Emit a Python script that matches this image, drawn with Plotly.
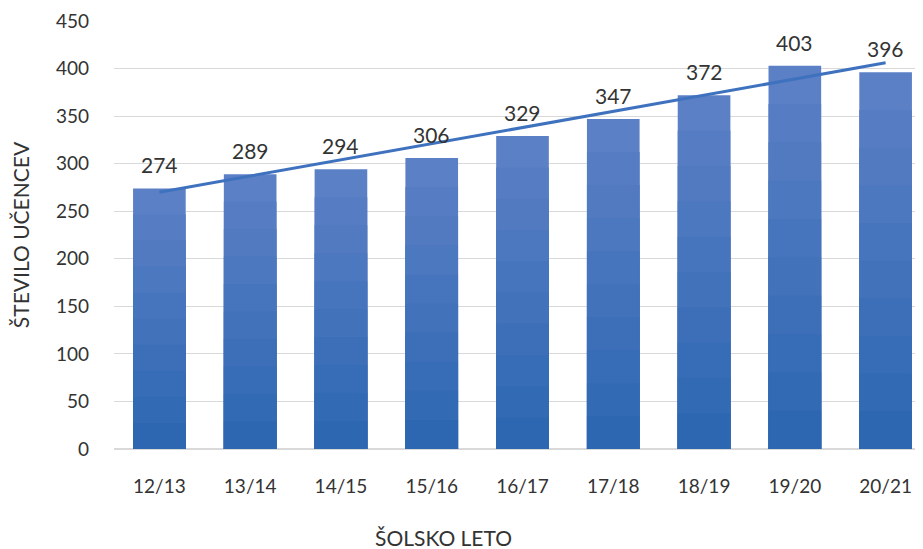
import plotly.graph_objects as go

# data
years = ["12/13", "13/14", "14/15", "15/16", "16/17", "17/18", "18/19", "19/20", "20/21"]
students = [274, 289, 294, 306, 329, 347, 372, 403, 396]
trend_x = [years[0], years[-1]]
trend_y = [270, 406]
y_ticks = [0, 50, 100, 150, 200, 250, 300, 350, 400, 450]

FONT = "Lato"
TEXT = "#333333"


def mix(c1, c2, t):
    a = [int(c1[i:i + 2], 16) for i in (1, 3, 5)]
    b = [int(c2[i:i + 2], 16) for i in (1, 3, 5)]
    return "#%02x%02x%02x" % tuple(round(a[i] + (b[i] - a[i]) * t) for i in range(3))


fig = go.Figure()

# fake vertical gradient: stack shorter, darker bars on top of the full one
top_col, bottom_col = "#5b80c6", "#2d67b1"
layers = 10
for k in range(layers):
    frac = 1 - k / layers
    fig.add_trace(go.Bar(
        x=years, y=[v * frac for v in students],
        marker=dict(color=mix(top_col, bottom_col, k / (layers - 1)), line_width=0),
        showlegend=False, hoverinfo="skip" if k else None,
    ))

fig.add_trace(go.Scatter(
    x=trend_x, y=trend_y, mode="lines",
    line=dict(color="#3f72be", width=3),
    showlegend=False,
))

# value labels above the bars
for yr, v in zip(years, students):
    fig.add_annotation(x=yr, y=v, text=str(v), showarrow=False,
                       yanchor="bottom", yshift=9,
                       font=dict(family=FONT, size=21, color=TEXT))

# x title sits left of the plot centre in the original
fig.add_annotation(text="ŠOLSKO LETO", xref="paper", yref="paper",
                   x=0.403, y=-0.206, xanchor="center", yanchor="middle",
                   showarrow=False, font=dict(family=FONT, size=21, color=TEXT))

# page body adds an 8px offset, margins compensate for it
fig.update_layout(
    width=923, height=549,
    barmode="overlay", bargap=0.42,
    plot_bgcolor="white", paper_bgcolor="white",
    margin=dict(l=106, r=0, t=13, b=108),
    font=dict(family=FONT, color=TEXT),
)
fig.update_yaxes(
    range=[0, 450], tickvals=y_ticks, automargin=False,
    showgrid=True, gridcolor="#d9d9d9", gridwidth=1,
    zeroline=True, zerolinecolor="#d9d9d9",
    tickfont=dict(size=19, color=TEXT), ticklabelstandoff=24,
    title=dict(text="ŠTEVILO UČENCEV", font=dict(size=21, color=TEXT), standoff=22),
)
fig.update_xaxes(
    range=[-0.5, 8.5], showgrid=False, showline=False, automargin=False,
    tickfont=dict(size=19, color=TEXT), ticklabelstandoff=24,
)

fig.write_html("out.html")
